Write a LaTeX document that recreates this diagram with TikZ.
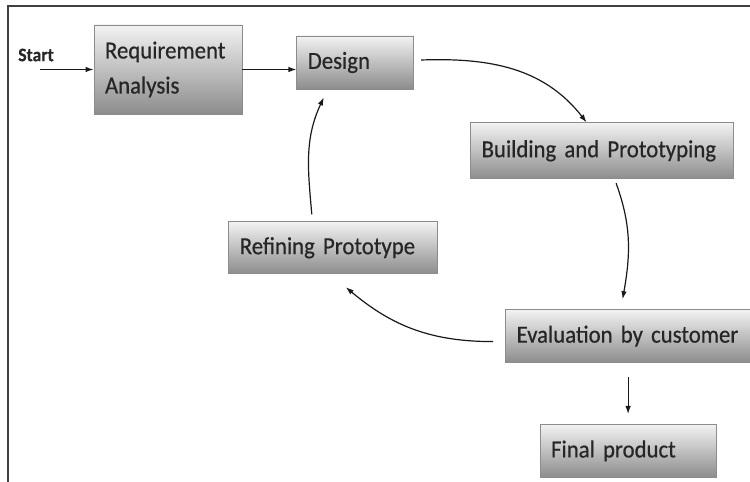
\documentclass[tikz,border=0pt]{standalone}
\usepackage{fontspec}
\setmainfont{Carlito}[FakeStretch=0.93, FakeBold=0.5]
\usetikzlibrary{positioning,arrows.meta}

\tikzset{
  box/.style={draw=black!45, line width=0.8pt, top color=black!5, bottom color=black!45,
    text=black!85, inner xsep=11pt, inner ysep=0pt, minimum height=53pt, align=left,
    font=\fontsize{24.5}{29}\selectfont},
  link/.style={-{Latex[length=8pt,width=5.5pt]}, line width=1.2pt, black!90}
}

\begin{document}
\begin{tikzpicture}[x=1pt,y=1pt]
    \useasboundingbox (0,0) rectangle (750,482);
    \draw[black!75, line width=1.6pt] (8,0) -- (8,476) -- (750,476);

    \node(ST) [font=\fontsize{19}{23}\selectfont\bfseries, text=black!85] at (36,427){Start};
    \coordinate(S0) at (40,412.5);

    \node(RA) [box, text width=126pt, minimum height=89pt] at (168,412.5){Requirement\\[6pt]Analysis};
    \node(DS) [box, text width=95pt, right=54pt of RA, yshift=7pt]{Design};
    \node(BP) [box, text width=241pt, minimum height=56pt, below right=33pt and 56pt of DS]{Building and Prototyping};
    \node(EC) [box, text width=223pt, below=130pt of BP, xshift=26pt]{Evaluation by customer};
    \node(RP) [box, text width=187pt, minimum height=52pt, above left=35pt and 67pt of EC]{Refining Prototype};
    \node(FP) [box, text width=154pt, below=61pt of EC]{Final product};

    \draw[link] (S0) -- (RA.west);
    \draw[link] (RA.east) -- (RA.east -| DS.west);
    \draw[link] ([shift={(7pt,2.5pt)}]DS.east) to[out=2,in=128] ([xshift=-15.5pt]BP.north);
    \draw[link] ([shift={(14pt,-4pt)}]BP.south) to[out=-70,in=80] ([shift={(-5.5pt,10pt)}]EC.north);
    \draw[link] ([shift={(-12pt,-5.5pt)}]EC.west) to[out=180,in=-40] ([shift={(12.5pt,-13pt)}]RP.south);
    \draw[link] ([shift={(-21.5pt,7pt)}]RP.north) to[out=95,in=-115] ([shift={(-31.5pt,-8pt)}]DS.south);
    \draw[link] ([yshift=-14pt]EC.south) -- ([yshift=10pt]FP.north);
  \end{tikzpicture}
\end{document}
